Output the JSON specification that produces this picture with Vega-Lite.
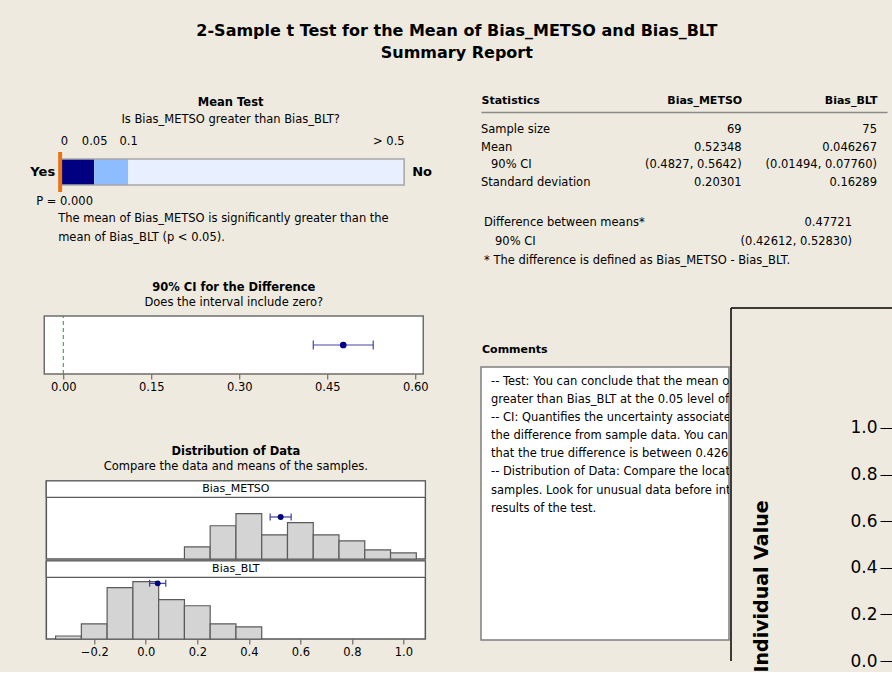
{
  "$schema": "https://vega.github.io/schema/vega-lite/v6.json",
  "background": "#EEEADF",
  "padding": {"left": 30, "top": 23, "right": 0, "bottom": 0},
  "title": {
    "text": ["2-Sample t Test for the Mean of Bias_METSO and Bias_BLT", "Summary Report"],
    "fontSize": 16, "fontWeight": "bold", "font": "DejaVu Sans", "lineHeight": 22,
    "anchor": "middle", "frame": "bounds", "offset": 33, "color": "#000", "dx": -25
  },
  "config": {
    "font": "DejaVu Sans",
    "view": {"stroke": null},
    "title": {"fontSize": 11.5, "fontWeight": "bold", "subtitleFontSize": 11.5, "subtitleFont": "DejaVu Sans", "color": "#000", "subtitleColor": "#000", "subtitlePadding": 4, "anchor": "middle"},
    "axis": {"labelFontSize": 11.5, "labelColor": "#000", "grid": false, "tickColor": "#555", "domain": false, "titleColor": "#000", "labelOverlap": false},
    "text": {"fontSize": 11.5, "color": "#000"}
  },
  "spacing": 48,
  "align": "none",
  "hconcat": [
    {
      "spacing": 51, "center": true,
      "vconcat": [
        {
          "spacing": 36, "center": true,
          "vconcat": [
            {
              "width": 379, "height": 80,
              "layer": [
                {
                  "data": {"values": [
                    {"p_from": 0, "p_to": 0.05, "zone": "significant"},
                    {"p_from": 0.05, "p_to": 0.1, "zone": "borderline"},
                    {"p_from": 0.1, "p_to": 0.5, "zone": "not significant"}
                  ]},
                  "mark": {"type": "rect"},
                  "encoding": {
                    "x": {"field": "p_from", "type": "quantitative",
                      "scale": {"domain": [0, 0.1, 0.5], "range": [19, 87, 363], "nice": false, "zero": false},
                      "axis": {"orient": "top", "offset": -40, "values": [0, 0.05, 0.1, 0.5], "labelExpr": "datum.value == 0.5 ? '> 0.5' : format(datum.value, '~g')", "ticks": false, "domain": false, "labelPadding": 6, "title": null}},
                    "x2": {"field": "p_to"},
                    "y": {"datum": 0.0875, "type": "quantitative", "scale": {"domain": [0, 1], "nice": false}, "axis": null},
                    "y2": {"datum": 0.4125},
                    "color": {"field": "zone", "type": "nominal", "scale": {"domain": ["significant", "borderline", "not significant"], "range": ["#000080", "#8DBDFF", "#E8EFFF"]}, "legend": null}
                  }
                },
                {
                  "data": {"values": [{"p_from": 0, "p_to": 0.5}]},
                  "mark": {"type": "rect", "fill": null, "stroke": "#A6A6A6", "strokeWidth": 1.5},
                  "encoding": {
                    "x": {"field": "p_from", "type": "quantitative"},
                    "x2": {"field": "p_to"},
                    "y": {"datum": 0.0875, "type": "quantitative"},
                    "y2": {"datum": 0.4125}
                  }
                },
                {
                  "data": {"values": [{"p": 0}]},
                  "mark": {"type": "rule", "color": "#E8731A", "strokeWidth": 4},
                  "encoding": {"x": {"field": "p", "type": "quantitative"}, "y": {"datum": 0, "type": "quantitative"}, "y2": {"datum": 0.5}}
                },
                {
                  "data": {"values": [{"centre": 0.2486, "heading": "Mean Test", "question": "Is Bias_METSO greater than Bias_BLT?"}]},
                  "layer": [
                    {"mark": {"type": "text", "fontWeight": "bold", "align": "center", "baseline": "middle", "dy": -9},
                     "encoding": {"x": {"field": "centre", "type": "quantitative"}, "y": {"datum": 1, "type": "quantitative"}, "text": {"field": "heading"}}},
                    {"mark": {"type": "text", "align": "center", "baseline": "middle", "dy": 8},
                     "encoding": {"x": {"field": "centre", "type": "quantitative"}, "y": {"datum": 1, "type": "quantitative"}, "text": {"field": "question"}}}
                  ]
                },
                {
                  "data": {"values": [{"p": 0, "answer": "Yes"}]},
                  "mark": {"type": "text", "fontWeight": "bold", "fontSize": 13, "align": "right", "baseline": "middle", "dx": -5},
                  "encoding": {"x": {"field": "p", "type": "quantitative"}, "y": {"datum": 0.25, "type": "quantitative"}, "text": {"field": "answer"}}
                },
                {
                  "data": {"values": [{"p": 0.5, "answer": "No"}]},
                  "mark": {"type": "text", "fontWeight": "bold", "fontSize": 13, "align": "left", "baseline": "middle", "dx": 8},
                  "encoding": {"x": {"field": "p", "type": "quantitative"}, "y": {"datum": 0.25, "type": "quantitative"}, "text": {"field": "answer"}}
                },
                {
                  "data": {"values": [{"p": 0, "p_label": "P = 0.000"}]},
                  "mark": {"type": "text", "align": "left", "baseline": "middle", "dx": -24, "dy": 10},
                  "encoding": {"x": {"field": "p", "type": "quantitative"}, "y": {"datum": 0, "type": "quantitative"}, "text": {"field": "p_label"}}
                },
                {
                  "data": {"values": [{"p": 0, "conclusion": ["The mean of Bias_METSO is significantly greater than the", "mean of Bias_BLT (p < 0.05)."]}]},
                  "mark": {"type": "text", "align": "left", "baseline": "top", "dx": -2, "dy": 21, "lineHeight": 19},
                  "encoding": {"x": {"field": "p", "type": "quantitative"}, "y": {"datum": 0, "type": "quantitative"}, "text": {"field": "conclusion"}}
                }
              ]
            },
            {
              "width": 379, "height": 58,
              "title": {"text": "90% CI for the Difference", "subtitle": "Does the interval include zero?", "offset": 7},
              "view": {"fill": "white", "stroke": "#6E6E6E", "strokeWidth": 1.5},
              "data": {"values": [{"difference": 0.47721, "ci_low": 0.42612, "ci_high": 0.52830, "null_value": 0}]},
              "layer": [
                {"mark": {"type": "rule", "color": "#1A9E1A", "strokeDash": [4, 3], "strokeWidth": 1},
                 "encoding": {"x": {"field": "null_value", "type": "quantitative",
                   "scale": {"domain": [-0.0324, 0.6136], "nice": false, "zero": false},
                   "axis": {"values": [0, 0.15, 0.3, 0.45, 0.6], "format": ".2f", "tickSize": 5, "domain": false, "title": null, "labelPadding": 2}},
                   "y": {"datum": 0, "type": "quantitative", "scale": {"domain": [0, 1]}, "axis": null}, "y2": {"datum": 1}}},
                {"mark": {"type": "rule", "color": "#4444A8", "strokeWidth": 1.2},
                 "encoding": {"x": {"field": "ci_low", "type": "quantitative"}, "x2": {"field": "ci_high"}, "y": {"datum": 0.5, "type": "quantitative"}}},
                {"mark": {"type": "tick", "orient": "vertical", "size": 9, "color": "#4444A8", "thickness": 1.2, "opacity": 1},
                 "encoding": {"x": {"field": "ci_low", "type": "quantitative"}, "y": {"datum": 0.5, "type": "quantitative"}}},
                {"mark": {"type": "tick", "orient": "vertical", "size": 9, "color": "#4444A8", "thickness": 1.2, "opacity": 1},
                 "encoding": {"x": {"field": "ci_high", "type": "quantitative"}, "y": {"datum": 0.5, "type": "quantitative"}}},
                {"mark": {"type": "point", "filled": true, "color": "#000080", "size": 45, "opacity": 1},
                 "encoding": {"x": {"field": "difference", "type": "quantitative"}, "y": {"datum": 0.5, "type": "quantitative"}}}
              ]
            }
          ]
        },
        {
          "title": {"text": "Distribution of Data", "subtitle": "Compare the data and means of the samples.", "offset": 7, "anchor": "middle"},
          "data": {"values": [
            {"sample": "Bias_METSO", "kind": "bin", "bin_start": 0.15, "bin_end": 0.25, "count": 4},
            {"sample": "Bias_METSO", "kind": "bin", "bin_start": 0.25, "bin_end": 0.35, "count": 11},
            {"sample": "Bias_METSO", "kind": "bin", "bin_start": 0.35, "bin_end": 0.45, "count": 15},
            {"sample": "Bias_METSO", "kind": "bin", "bin_start": 0.45, "bin_end": 0.55, "count": 8},
            {"sample": "Bias_METSO", "kind": "bin", "bin_start": 0.55, "bin_end": 0.65, "count": 12},
            {"sample": "Bias_METSO", "kind": "bin", "bin_start": 0.65, "bin_end": 0.75, "count": 8},
            {"sample": "Bias_METSO", "kind": "bin", "bin_start": 0.75, "bin_end": 0.85, "count": 6},
            {"sample": "Bias_METSO", "kind": "bin", "bin_start": 0.85, "bin_end": 0.95, "count": 3},
            {"sample": "Bias_METSO", "kind": "bin", "bin_start": 0.95, "bin_end": 1.05, "count": 2},
            {"sample": "Bias_BLT", "kind": "bin", "bin_start": -0.35, "bin_end": -0.25, "count": 1},
            {"sample": "Bias_BLT", "kind": "bin", "bin_start": -0.25, "bin_end": -0.15, "count": 5},
            {"sample": "Bias_BLT", "kind": "bin", "bin_start": -0.15, "bin_end": -0.05, "count": 17},
            {"sample": "Bias_BLT", "kind": "bin", "bin_start": -0.05, "bin_end": 0.05, "count": 19},
            {"sample": "Bias_BLT", "kind": "bin", "bin_start": 0.05, "bin_end": 0.15, "count": 13},
            {"sample": "Bias_BLT", "kind": "bin", "bin_start": 0.15, "bin_end": 0.25, "count": 11},
            {"sample": "Bias_BLT", "kind": "bin", "bin_start": 0.25, "bin_end": 0.35, "count": 5},
            {"sample": "Bias_BLT", "kind": "bin", "bin_start": 0.35, "bin_end": 0.45, "count": 4},
            {"sample": "Bias_METSO", "kind": "mean", "mean": 0.52348, "ci_low": 0.4827, "ci_high": 0.5642, "marker_level": 13.9},
            {"sample": "Bias_BLT", "kind": "mean", "mean": 0.046267, "ci_low": 0.01494, "ci_high": 0.07760, "marker_level": 18.4}
          ]},
          "spacing": -3,
          "vconcat": [
            {
              "width": 379, "height": 78,
              "view": {"stroke": "#555", "strokeWidth": 1.5, "fill": "white"},
              "transform": [{"filter": "datum.sample == 'Bias_METSO'"}],
              "layer": [
                {"transform": [{"filter": "datum.kind == 'bin'"}],
                 "mark": {"type": "rect", "fill": "#D4D4D4", "stroke": "#5A5A5A", "strokeWidth": 1.2},
                 "encoding": {
                   "x": {"field": "bin_start", "type": "quantitative", "scale": {"domain": [-0.386, 1.085], "nice": false, "zero": false}, "axis": null},
                   "x2": {"field": "bin_end"},
                   "y": {"field": "count", "type": "quantitative", "scale": {"domain": [0, 25.8], "nice": false}, "axis": null},
                   "y2": {"datum": 0}
                 }},
                {"transform": [{"filter": "datum.kind == 'mean'"}],
                 "mark": {"type": "rect", "fill": "white", "stroke": "#5A5A5A", "strokeWidth": 1.2},
                 "encoding": {"x": {"datum": -0.386, "type": "quantitative"}, "x2": {"datum": 1.085}, "y": {"datum": 20.4, "type": "quantitative"}, "y2": {"datum": 25.8}}},
                {"transform": [{"filter": "datum.kind == 'mean'"}],
                 "mark": {"type": "text", "fontSize": 11, "baseline": "middle"},
                 "encoding": {"x": {"datum": 0.3495, "type": "quantitative"}, "y": {"datum": 23.1, "type": "quantitative"}, "text": {"field": "sample"}}},
                {"transform": [{"filter": "datum.kind == 'mean'"}],
                 "mark": {"type": "rule", "color": "#3D3DA0", "strokeWidth": 1.2},
                 "encoding": {"x": {"field": "ci_low", "type": "quantitative"}, "x2": {"field": "ci_high"}, "y": {"field": "marker_level", "type": "quantitative"}}},
                {"transform": [{"filter": "datum.kind == 'mean'"}],
                 "mark": {"type": "tick", "orient": "vertical", "size": 7, "color": "#3D3DA0", "thickness": 1.2, "opacity": 1},
                 "encoding": {"x": {"field": "ci_low", "type": "quantitative"}, "y": {"field": "marker_level", "type": "quantitative"}}},
                {"transform": [{"filter": "datum.kind == 'mean'"}],
                 "mark": {"type": "tick", "orient": "vertical", "size": 7, "color": "#3D3DA0", "thickness": 1.2, "opacity": 1},
                 "encoding": {"x": {"field": "ci_high", "type": "quantitative"}, "y": {"field": "marker_level", "type": "quantitative"}}},
                {"transform": [{"filter": "datum.kind == 'mean'"}],
                 "mark": {"type": "point", "filled": true, "color": "#000080", "size": 35, "opacity": 1},
                 "encoding": {"x": {"field": "mean", "type": "quantitative"}, "y": {"field": "marker_level", "type": "quantitative"}}}
              ]
            },
            {
              "width": 379, "height": 78,
              "view": {"stroke": "#555", "strokeWidth": 1.5, "fill": "white"},
              "transform": [{"filter": "datum.sample == 'Bias_BLT'"}],
              "layer": [
                {"transform": [{"filter": "datum.kind == 'bin'"}],
                 "mark": {"type": "rect", "fill": "#D4D4D4", "stroke": "#5A5A5A", "strokeWidth": 1.2},
                 "encoding": {
                   "x": {"field": "bin_start", "type": "quantitative", "scale": {"domain": [-0.386, 1.085], "nice": false, "zero": false},
                     "axis": {"values": [-0.2, 0, 0.2, 0.4, 0.6, 0.8, 1.0], "format": ".1f", "tickSize": 5, "domain": false, "title": null, "labelPadding": 2}},
                   "x2": {"field": "bin_end"},
                   "y": {"field": "count", "type": "quantitative", "scale": {"domain": [0, 25.8], "nice": false}, "axis": null},
                   "y2": {"datum": 0}
                 }},
                {"transform": [{"filter": "datum.kind == 'mean'"}],
                 "mark": {"type": "rect", "fill": "white", "stroke": "#5A5A5A", "strokeWidth": 1.2},
                 "encoding": {"x": {"datum": -0.386, "type": "quantitative"}, "x2": {"datum": 1.085}, "y": {"datum": 20.4, "type": "quantitative"}, "y2": {"datum": 25.8}}},
                {"transform": [{"filter": "datum.kind == 'mean'"}],
                 "mark": {"type": "text", "fontSize": 11, "baseline": "middle"},
                 "encoding": {"x": {"datum": 0.3495, "type": "quantitative"}, "y": {"datum": 23.1, "type": "quantitative"}, "text": {"field": "sample"}}},
                {"transform": [{"filter": "datum.kind == 'mean'"}],
                 "mark": {"type": "rule", "color": "#3D3DA0", "strokeWidth": 1.2},
                 "encoding": {"x": {"field": "ci_low", "type": "quantitative"}, "x2": {"field": "ci_high"}, "y": {"field": "marker_level", "type": "quantitative"}}},
                {"transform": [{"filter": "datum.kind == 'mean'"}],
                 "mark": {"type": "tick", "orient": "vertical", "size": 7, "color": "#3D3DA0", "thickness": 1.2, "opacity": 1},
                 "encoding": {"x": {"field": "ci_low", "type": "quantitative"}, "y": {"field": "marker_level", "type": "quantitative"}}},
                {"transform": [{"filter": "datum.kind == 'mean'"}],
                 "mark": {"type": "tick", "orient": "vertical", "size": 7, "color": "#3D3DA0", "thickness": 1.2, "opacity": 1},
                 "encoding": {"x": {"field": "ci_high", "type": "quantitative"}, "y": {"field": "marker_level", "type": "quantitative"}}},
                {"transform": [{"filter": "datum.kind == 'mean'"}],
                 "mark": {"type": "point", "filled": true, "color": "#000080", "size": 35, "opacity": 1},
                 "encoding": {"x": {"field": "mean", "type": "quantitative"}, "y": {"field": "marker_level", "type": "quantitative"}}}
              ]
            }
          ]
        }
      ]
    },
    {
      "spacing": 36,
      "vconcat": [
        {
          "spacing": 12.5,
          "vconcat": [
            {
              "width": 406, "height": 89,
              "data": {"values": [
                {"statistic": "Sample size", "indent": false, "Bias_METSO": "69", "Bias_BLT": "75"},
                {"statistic": "Mean", "indent": false, "Bias_METSO": "0.52348", "Bias_BLT": "0.046267"},
                {"statistic": "90% CI", "indent": true, "Bias_METSO": "(0.4827, 0.5642)", "Bias_BLT": "(0.01494, 0.07760)"},
                {"statistic": "Standard deviation", "indent": false, "Bias_METSO": "0.20301", "Bias_BLT": "0.16289"}
              ]},
              "layer": [
                {"transform": [{"filter": "!datum.indent"}],
                 "mark": {"type": "text", "align": "left", "baseline": "middle"},
                 "encoding": {
                   "x": {"datum": "Statistics", "type": "nominal",
                     "scale": {"type": "point", "domain": ["Statistics", "gap", "Bias_METSO", "Bias_BLT"], "padding": 0},
                     "axis": {"orient": "top", "domain": true, "domainColor": "#8A8A8A", "domainWidth": 1.5, "ticks": false, "labelFontWeight": "bold", "labelFontSize": 11, "labelPadding": 7, "labelAngle": 0,
                       "labelExpr": "datum.value == 'gap' ? '' : datum.label",
                       "labelAlign": {"condition": {"test": "datum.value == 'Statistics'", "value": "left"}, "value": "right"},
                       "labelOffset": {"condition": {"test": "datum.value == 'Statistics'", "value": 0}, "value": -10},
                       "title": null}},
                   "y": {"field": "statistic", "type": "nominal", "scale": {"type": "point", "domain": ["Sample size", "Mean", "90% CI", "Standard deviation"], "padding": 1.02}, "axis": null},
                   "text": {"field": "statistic"}
                 }},
                {"transform": [{"filter": "datum.indent"}],
                 "mark": {"type": "text", "align": "left", "baseline": "middle", "dx": 10},
                 "encoding": {"x": {"datum": "Statistics", "type": "nominal"}, "y": {"field": "statistic", "type": "nominal"}, "text": {"field": "statistic"}}},
                {"mark": {"type": "text", "align": "right", "baseline": "middle", "dx": -10},
                 "encoding": {"x": {"datum": "Bias_METSO", "type": "nominal"}, "y": {"field": "statistic", "type": "nominal"}, "text": {"field": "Bias_METSO"}}},
                {"mark": {"type": "text", "align": "right", "baseline": "middle", "dx": -10},
                 "encoding": {"x": {"datum": "Bias_BLT", "type": "nominal"}, "y": {"field": "statistic", "type": "nominal"}, "text": {"field": "Bias_BLT"}}}
              ]
            },
            {
              "width": 371, "height": 57,
              "data": {"values": [
                {"item": "difference", "indent": false, "label": "Difference between means*", "value": "0.47721"},
                {"item": "ci", "indent": true, "label": "90% CI", "value": "(0.42612, 0.52830)"},
                {"item": "note", "indent": false, "label": "* The difference is defined as Bias_METSO - Bias_BLT.", "value": ""}
              ]},
              "layer": [
                {"transform": [{"filter": "!datum.indent"}],
                 "mark": {"type": "text", "align": "left", "baseline": "middle", "dx": 3},
                 "encoding": {
                   "x": {"datum": "label", "type": "nominal", "scale": {"type": "point", "domain": ["label", "value"], "padding": 0}, "axis": null},
                   "y": {"field": "item", "type": "nominal", "scale": {"type": "point", "domain": ["difference", "ci", "note"], "padding": 0.5}, "axis": null},
                   "text": {"field": "label"}
                 }},
                {"transform": [{"filter": "datum.indent"}],
                 "mark": {"type": "text", "align": "left", "baseline": "middle", "dx": 14},
                 "encoding": {"x": {"datum": "label", "type": "nominal"}, "y": {"field": "item", "type": "nominal"}, "text": {"field": "label"}}},
                {"mark": {"type": "text", "align": "right", "baseline": "middle"},
                 "encoding": {"x": {"datum": "value", "type": "nominal"}, "y": {"field": "item", "type": "nominal"}, "text": {"field": "value"}}}
              ]
            }
          ]
        },
        {
          "spacing": 0,
          "hconcat": [
            {
              "width": 248, "height": 364,
              "data": {"values": [{"heading": "Comments", "left": 0, "right": 1, "box_top": 0.838, "box_bottom": 0.088, "comment": [
                "-- Test: You can conclude that the mean of Bias_METSO is",
                "greater than Bias_BLT at the 0.05 level of significance.",
                "-- CI: Quantifies the uncertainty associated with estimating",
                "the difference from sample data. You can be 90% confident",
                "that the true difference is between 0.42612 and 0.52830.",
                "-- Distribution of Data: Compare the location and means of",
                "samples. Look for unusual data before interpreting the",
                "results of the test."
              ]}]},
              "layer": [
                {"mark": {"type": "rect", "fill": "white", "stroke": "#7F7F7F", "strokeWidth": 1.5},
                 "encoding": {
                   "x": {"field": "left", "type": "quantitative", "scale": {"domain": [0, 1], "nice": false, "zero": false}, "axis": null},
                   "x2": {"field": "right"},
                   "y": {"field": "box_top", "type": "quantitative", "scale": {"domain": [0, 1], "nice": false}, "axis": null},
                   "y2": {"field": "box_bottom"}
                 }},
                {"mark": {"type": "text", "fontWeight": "bold", "fontSize": 11, "align": "left", "baseline": "middle", "dx": 1, "dy": -17},
                 "encoding": {"x": {"field": "left", "type": "quantitative"}, "y": {"field": "box_top", "type": "quantitative"}, "text": {"field": "heading"}}},
                {"mark": {"type": "text", "align": "left", "baseline": "top", "lineHeight": 18.1, "dx": 10, "dy": 9, "clip": true},
                 "encoding": {"x": {"field": "left", "type": "quantitative"}, "y": {"field": "box_top", "type": "quantitative"}, "text": {"field": "comment"}}}
              ]
            },
            {
              "width": 162, "height": 364,
              "data": {"values": [{"plot": "Individual Value Plot", "top": 1.515}]},
              "resolve": {"axis": {"y": "independent"}},
              "layer": [
                {"mark": {"type": "rule", "color": "#000", "strokeWidth": 1.5},
                 "encoding": {"y": {"field": "top", "type": "quantitative",
                   "scale": {"domain": [-0.0472, 1.515], "nice": false, "zero": false},
                   "axis": {"orient": "left", "offset": -162, "values": [0, 0.2, 0.4, 0.6, 0.8, 1.0], "format": ".1f", "tickSize": 13, "tickColor": "#000", "tickWidth": 1, "labelFontSize": 17, "labelPadding": 3, "domain": false,
                     "title": "Individual Value", "titleFontSize": 19, "titleFontWeight": "bold", "titlePadding": 78, "titleAnchor": "start"}}}},
                {"mark": {"type": "rule", "color": "#000", "strokeWidth": 1.5},
                 "encoding": {"y": {"field": "top", "type": "quantitative"},
                   "x": {"datum": 0, "type": "quantitative", "scale": {"domain": [0, 1]}, "axis": {"orient": "top", "domain": false, "ticks": false, "labels": false, "title": null}}}}
              ]
            }
          ]
        }
      ]
    }
  ]
}
